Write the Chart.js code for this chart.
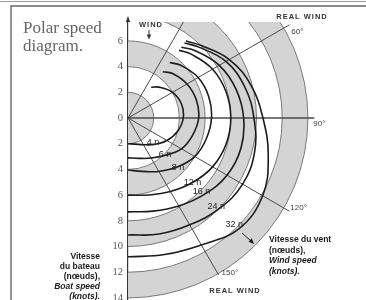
<!DOCTYPE html>
<html>
<head>
<meta charset="UTF-8">
<title>Polar speed diagram</title>
<script src="https://cdn.jsdelivr.net/npm/chart.js"></script>
<style>
  html, body { margin: 0; padding: 0; background: #fff; }
  .wrap { position: relative; width: 366px; height: 300px; }
</style>
</head>
<body>
<div class="wrap"><canvas id="polar"></canvas></div>
<script>
  // true wind angle (deg from the wind) and boat speed (knots) for each wind speed
  const angles = [37, 45, 60, 75, 90, 105, 120, 135, 150, 165, 180];
  const windLabels = ['4 n', '6 n', '8 n', '12 n', '16 n', '24 n', '32 n'];
  const speed4 = [3.0, 3.4, 4.0, 4.3, 4.3, 4.0, 3.5, 2.9, 2.4, 2.1, 2.0];
  const speed6 = [4.5, 4.9, 5.3, 5.5, 5.5, 5.2, 4.8, 4.1, 3.6, 3.25, 3.1];
  const speed8 = [5.4, 5.8, 6.3, 6.5, 6.5, 6.3, 6.0, 5.4, 4.8, 4.3, 4.05];
  const speed12 = [6.6, 7.0, 7.6, 7.9, 8.0, 7.9, 7.6, 7.1, 6.6, 6.2, 6.0];
  const speed16 = [6.9, 7.4, 8.2, 8.7, 9.0, 9.1, 8.9, 8.4, 7.9, 7.5, 7.3];
  const speed24 = [7.3, 7.8, 8.8, 9.4, 9.8, 10.2, 10.3, 10.0, 9.6, 9.35, 9.1];
  const speed32 = [7.5, 8.0, 9.1, 9.9, 10.5, 11.3, 12.1, 12.2, 11.4, 11.0, 10.8];
  // where the "n" labels sit, along the 135 deg line
  const labelAngle = 135;
  const labelRadius = [2.75, 4.07, 5.5, 7.1, 8.1, 9.7, 11.7];

  const yTicks = [6, 4, 2, 0, -2, -4, -6, -8, -10, -12, -14];
  const rings = [2, 4, 6, 8, 10, 12, 14];
  const bands = [[0, 2], [4, 6], [8, 10], [12, 14]];
  const spokes = [30, 60, 90, 120, 150];
  const spokeLabels = ['', '60°', '90°', '120°', '150°'];

  const series = [speed4, speed6, speed8, speed12, speed16, speed24, speed32];
  const deg = Math.PI / 180;
  const polarPoints = speeds => speeds.map((s, i) => ({
    x: s * Math.sin(angles[i] * deg),
    y: s * Math.cos(angles[i] * deg)
  }));

  function geometry(chart) {
    const { x, y } = chart.scales;
    const cx = x.getPixelForValue(0), cy = y.getPixelForValue(0);
    const k = x.getPixelForValue(1) - cx;
    return { cx, cy, k };
  }

  const backdrop = {
    id: 'backdrop',
    beforeDatasetsDraw(chart) {
      const { ctx, chartArea: ca } = chart;
      const { cx, cy, k } = geometry(chart);
      ctx.save();
      ctx.beginPath();
      ctx.rect(ca.left, ca.top, ca.right - ca.left, ca.bottom - ca.top);
      ctx.clip();

      ctx.fillStyle = '#d4d4d4';
      bands.forEach(([a, b]) => {
        ctx.beginPath();
        ctx.arc(cx, cy, b * k, -Math.PI / 2, Math.PI / 2);
        if (a > 0) ctx.arc(cx, cy, a * k, Math.PI / 2, -Math.PI / 2, true);
        else ctx.lineTo(cx, cy);
        ctx.closePath();
        ctx.fill();
      });

      ctx.strokeStyle = '#7a7a7a';
      ctx.lineWidth = 1;
      rings.forEach(r => {
        ctx.beginPath();
        ctx.arc(cx, cy, r * k, -Math.PI / 2, Math.PI / 2);
        ctx.stroke();
      });

      ctx.strokeStyle = '#4a4a4a';
      spokes.forEach(a => {
        const len = (a === 150 ? 14.1 : 14.5) * k;
        ctx.lineWidth = a === 90 ? 1.3 : 1;
        ctx.beginPath();
        ctx.moveTo(cx, cy);
        ctx.lineTo(cx + len * Math.sin(a * deg), cy - len * Math.cos(a * deg));
        ctx.stroke();
      });
      ctx.restore();
    }
  };

  const annotations = {
    id: 'annotations',
    afterDraw(chart) {
      const { ctx } = chart;
      const { cx, cy, k } = geometry(chart);
      ctx.save();

      // frame
      ctx.strokeStyle = '#9a9a9a';
      ctx.lineWidth = 1;
      ctx.beginPath(); ctx.moveTo(0, 1.5); ctx.lineTo(366, 1.5); ctx.stroke();
      ctx.strokeStyle = '#666';
      ctx.lineWidth = 1.4;
      ctx.beginPath();
      ctx.moveTo(11, 300); ctx.lineTo(11, 6); ctx.lineTo(366, 6);
      ctx.stroke();

      // axis arrow
      ctx.strokeStyle = '#333';
      ctx.lineWidth = 1.2;
      ctx.beginPath(); ctx.moveTo(cx, 22); ctx.lineTo(cx, 19); ctx.stroke();
      ctx.fillStyle = '#333';
      ctx.beginPath();
      ctx.moveTo(cx, 16); ctx.lineTo(cx - 2.2, 22); ctx.lineTo(cx + 2.2, 22);
      ctx.closePath(); ctx.fill();

      // title
      ctx.fillStyle = '#666';
      ctx.font = '17px "Liberation Serif"';
      ctx.textAlign = 'left';
      ctx.textBaseline = 'alphabetic';
      ctx.fillText('Polar speed', 23, 33);
      ctx.fillText('diagram.', 23, 51);

      // wind labels
      ctx.fillStyle = '#333';
      ctx.font = 'bold 7.5px "Liberation Sans"';
      ctx.letterSpacing = '1px';
      ctx.textAlign = 'center';
      ctx.textBaseline = 'middle';
      ctx.fillText('WIND', 151, 25);
      ctx.fillText('REAL WIND', 302, 17);
      ctx.fillText('REAL WIND', 235, 291);
      ctx.letterSpacing = '0px';
      ctx.beginPath(); ctx.moveTo(149, 30); ctx.lineTo(149, 35); ctx.lineWidth = 1; ctx.stroke();
      ctx.beginPath();
      ctx.moveTo(146.8, 34.5); ctx.lineTo(151.2, 34.5); ctx.lineTo(149, 39.5);
      ctx.closePath(); ctx.fill();

      // angle labels at spoke ends
      const offsets = { 60: [2, 7], 90: [-1, 6], 120: [1, -3], 150: [3, -2] };
      ctx.fillStyle = '#444';
      ctx.font = '8px "Liberation Sans"';
      ctx.textAlign = 'left';
      spokes.forEach((a, i) => {
        if (!spokeLabels[i]) return;
        const len = (a === 150 ? 14.1 : 14.5) * k;
        const ex = cx + len * Math.sin(a * deg), ey = cy - len * Math.cos(a * deg);
        ctx.fillText(spokeLabels[i], ex + offsets[a][0], ey + offsets[a][1]);
      });

      // wind speed labels on the curves
      ctx.fillStyle = '#222';
      ctx.font = '9px "Liberation Sans"';
      ctx.textAlign = 'center';
      windLabels.forEach((t, i) => {
        const r = labelRadius[i] * k;
        ctx.fillText(t, cx + r * Math.sin(labelAngle * deg), cy - r * Math.cos(labelAngle * deg));
      });

      // axis captions
      ctx.fillStyle = '#1a1a1a';
      ctx.textAlign = 'right';
      ctx.font = 'bold 8.5px "Liberation Sans"';
      ctx.fillText('Vitesse', 100, 257);
      ctx.fillText('du bateau', 100, 267);
      ctx.fillText('(nœuds),', 100, 277);
      ctx.font = 'italic bold 8.5px "Liberation Sans"';
      ctx.fillText('Boat speed', 100, 287);
      ctx.fillText('(knots).', 100, 297);

      ctx.textAlign = 'left';
      ctx.font = 'bold 8.5px "Liberation Sans"';
      ctx.fillText('Vitesse du vent', 269, 240);
      ctx.fillText('(nœuds),', 269, 250.5);
      ctx.font = 'italic bold 8.5px "Liberation Sans"';
      ctx.fillText('Wind speed', 269, 261);
      ctx.fillText('(knots).', 269, 271.5);

      // pointer from the curves to the caption
      ctx.strokeStyle = '#222';
      ctx.lineWidth = 1;
      ctx.beginPath(); ctx.moveTo(242, 233); ctx.lineTo(251, 241); ctx.stroke();
      ctx.beginPath();
      ctx.moveTo(254, 244); ctx.lineTo(248.5, 241.8); ctx.lineTo(251.8, 238.3);
      ctx.closePath(); ctx.fill();

      ctx.restore();
    }
  };

  new Chart(document.getElementById('polar'), {
    type: 'scatter',
    data: {
      datasets: series.map((s, i) => ({
        label: windLabels[i],
        data: polarPoints(s),
        showLine: true,
        borderColor: '#1c1c1c',
        borderWidth: 1.6,
        pointRadius: 0,
        tension: 0.4,
        fill: false
      }))
    },
    options: {
      responsive: true,
      maintainAspectRatio: false,
      animation: false,
      layout: { padding: { top: 22, left: 106, right: 0, bottom: 0 } },
      plugins: { legend: { display: false }, tooltip: { enabled: false } },
      scales: {
        x: { type: 'linear', display: false, min: 0, max: 18.52 },
        y: {
          type: 'linear',
          min: -14.16,
          max: 7.47,
          grid: { display: false, drawTicks: false },
          border: { display: true, color: '#333', width: 1.2 },
          ticks: {
            autoSkip: false,
            padding: 5,
            color: '#555',
            font: { family: 'Liberation Serif', size: 10.5 },
            callback: v => Math.abs(v)
          },
          afterBuildTicks: s => { s.ticks = yTicks.map(v => ({ value: v })); },
          afterFit: s => { s.width = 22; s.paddingTop = 0; s.paddingBottom = 0; }
        }
      }
    },
    plugins: [backdrop, annotations]
  });
</script>
</body>
</html>
